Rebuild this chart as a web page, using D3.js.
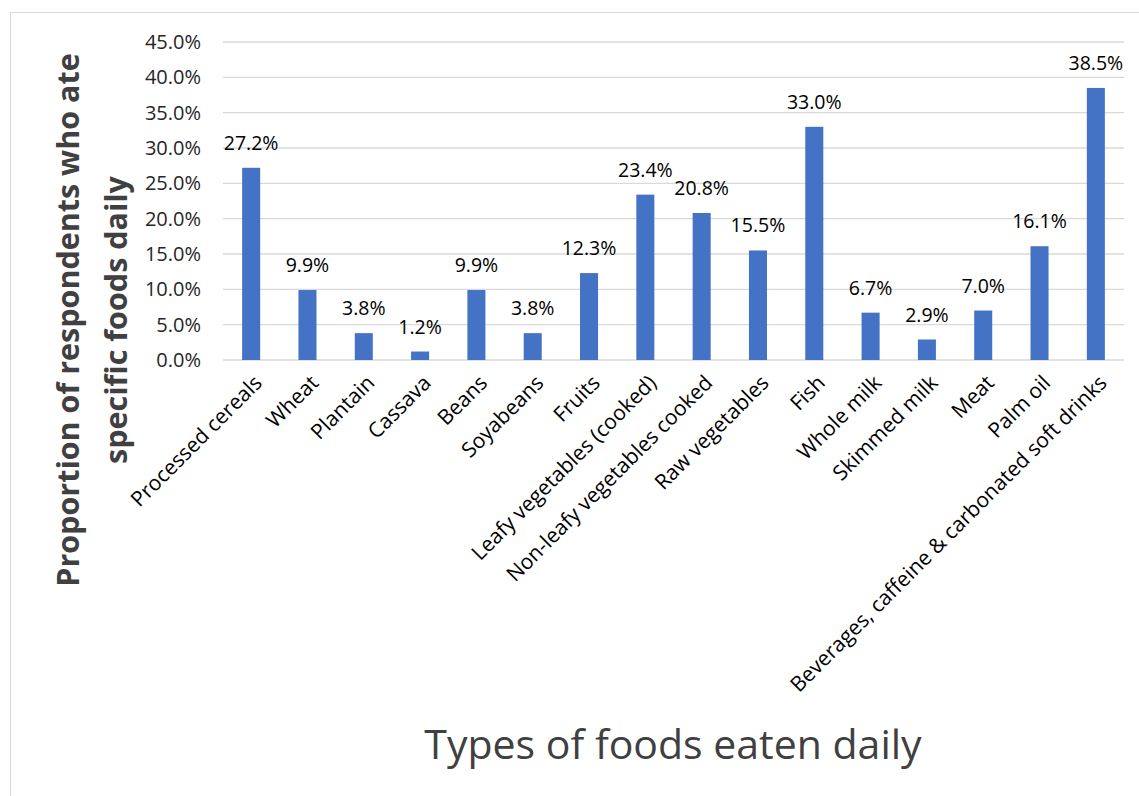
<!DOCTYPE html>
<html><head><meta charset="utf-8">
<script src="https://cdn.jsdelivr.net/npm/d3@7"></script>
<style>body{margin:0;background:#fff;} text{font-family:"Open Sans","Noto Sans",sans-serif;}</style>
</head><body>
<svg id="c" width="1139" height="796"></svg>
<script>
const categories = ["Processed cereals","Wheat","Plantain","Cassava","Beans","Soyabeans","Fruits","Leafy vegetables (cooked)","Non-leafy vegetables cooked","Raw vegetables","Fish","Whole milk","Skimmed milk","Meat","Palm oil","Beverages, caffeine & carbonated soft drinks"];
const values = [27.2,9.9,3.8,1.2,9.9,3.8,12.3,23.4,20.8,15.5,33.0,6.7,2.9,7.0,16.1,38.5];
const yTicks = [0,5,10,15,20,25,30,35,40,45];

const svg = d3.select("#c");
svg.append("rect").attr("x",10.5).attr("y",12.5).attr("width",1140).attr("height",800)
  .attr("fill","#fff").attr("stroke","#d9d9d9");

const pLeft=223, pRight=1124, pTop=42, pBottom=360;
const x = d3.scaleBand().domain(categories).range([pLeft,pRight]).paddingInner(0.68).paddingOuter(0.34);
const y = d3.scaleLinear().domain([0,45]).range([pBottom,pTop]);

svg.append("g").selectAll("line").data(yTicks).join("line")
  .attr("x1",pLeft).attr("x2",pRight).attr("y1",d=>y(d)).attr("y2",d=>y(d))
  .attr("stroke","#d9d9d9").attr("stroke-width",1.3);

svg.append("g").selectAll("text").data(yTicks).join("text")
  .attr("x",201).attr("y",d=>y(d)).attr("dy","0.35em").attr("text-anchor","end")
  .attr("font-size",20).attr("fill","#262626").text(d=>d.toFixed(1)+"%");

svg.append("g").selectAll("rect").data(values).join("rect")
  .attr("x",(d,i)=>x(categories[i])).attr("width",x.bandwidth())
  .attr("y",d=>y(d)).attr("height",d=>y(0)-y(d)).attr("fill","#4472c4");

svg.append("g").selectAll("text").data(values).join("text")
  .attr("x",(d,i)=>x(categories[i])+x.bandwidth()/2).attr("y",d=>y(d)-18)
  .attr("text-anchor","middle").attr("font-size",19.5).attr("fill","#000")
  .text(d=>d.toFixed(1)+"%");

svg.append("g").selectAll("text").data(categories).join("text")
  .attr("transform",d=>`translate(${x(d)+x.bandwidth()/2+7},${379}) rotate(-45)`)
  .attr("text-anchor","end").attr("dy","0.35em").attr("font-size",21).attr("fill","#000")
  .text(d=>d);

const yt = svg.append("text").attr("transform","translate(68,320) rotate(-90)")
  .attr("text-anchor","middle").attr("font-size",30.5).attr("font-weight","bold").attr("fill","#404040");
yt.append("tspan").attr("x",0).attr("dy","0.35em").text("Proportion of respondents who ate");
yt.append("tspan").attr("x",0).attr("dy","1.58em").text("specific foods daily");

svg.append("text").attr("x",673).attr("y",759).attr("text-anchor","middle")
  .attr("font-size",41).attr("fill","#404040").text("Types of foods eaten daily");
</script>
</body></html>
